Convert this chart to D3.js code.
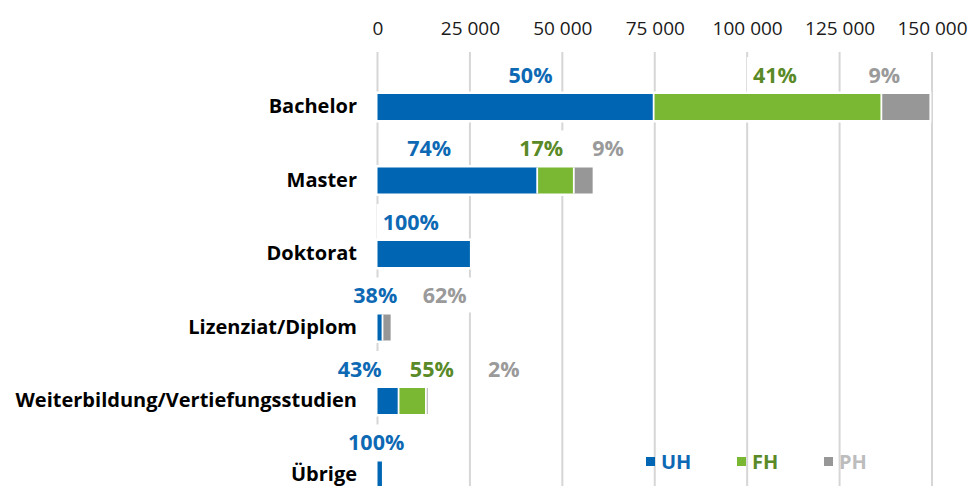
<!DOCTYPE html>
<html><head><meta charset="utf-8">
<script src="https://cdn.jsdelivr.net/npm/d3@7"></script>
<style>
html,body{margin:0;padding:0;background:#fff;}
svg{display:block;font-family:"Open Sans",sans-serif;}
</style></head>
<body>
<svg id="c" width="972" height="486"></svg>
<script>
// ---- data ----
const categories = ["Bachelor","Master","Doktorat","Lizenziat/Diplom","Weiterbildung/Vertiefungsstudien","Übrige"];
const seriesNames = ["UH","FH","PH"];
const UH = [74700, 43200, 25000, 1350, 5700, 1200];
const FH = [61600, 9900, 0, 0, 7400, 0];
const PH = [13000, 5100, 0, 2200, 450, 0];
const tickValues = [0, 25000, 50000, 75000, 100000, 125000, 150000];

// percentage labels as printed in the chart
const pctUH = ["50%", "74%", "100%", "38%", "43%", "100%"];
const pctFH = ["41%", "17%", null, null, "55%", null];
const pctPH = ["9%", "9%", null, "62%", "2%", null];

// label anchor positions (in value units) for the percentage labels
const labelAtUH = [41400, 14000, 9000, -600, -4800, -350];
const labelAtFH = [107500, 44300, null, null, 14700, null];
const labelAtPH = [137100, 62400, null, 18200, 34200, null];

// ---- layout / style ----
const colors = {UH:"#0066b3", FH:"#7ab733", PH:"#979797"};
const textColors = {UH:"#0e69b4", FH:"#5a8a28", PH:"#9a9a9a"};
const legendText = {UH:"#0e69b4", FH:"#5a8a28", PH:"#bdbdbd"};

const svg = d3.select("#c");
const x = d3.scaleLinear().domain([0,150000]).range([377.5, 932]);
const y = d3.scalePoint().domain(categories).range([107, 474.5]);
const barH = 26;

const series = {UH, FH, PH};
const pcts = {UH:pctUH, FH:pctFH, PH:pctPH};
const labelAt = {UH:labelAtUH, FH:labelAtFH, PH:labelAtPH};

const loc = d3.formatLocale({decimal:",", thousands:" ", grouping:[3], currency:["",""]});
const fmt = loc.format(",d");

// gridlines
svg.append("g").selectAll("line").data(tickValues).join("line")
  .attr("x1", d=>x(d)).attr("x2", d=>x(d))
  .attr("y1", 52).attr("y2", 486)
  .attr("stroke", "#d6d6d6").attr("stroke-width", 2);

// top axis labels
const axis = d3.axisTop(x).tickValues(tickValues).tickFormat(fmt).tickSize(0).tickPadding(0);
const ag = svg.append("g").attr("transform","translate(0,35)").call(axis);
ag.select(".domain").remove();
ag.selectAll("text").attr("font-family","'Open Sans',sans-serif").attr("font-size",19)
  .attr("fill","#1a1a1a").attr("dy","0");

// rows
const rows = categories.map((c,i)=>{
  let acc = 0;
  const segs = seriesNames.map(s=>{
    const v = series[s][i];
    const seg = {s, v, x0:acc, x1:acc+v};
    acc += v;
    return seg;
  });
  return {c, i, total:acc, segs};
});

const gLab = svg.append("g");
const gBars = svg.append("g");

rows.forEach(r=>{
  const cy = y(r.c);
  // white halo behind whole bar row
  gBars.append("rect")
    .attr("x", x(0)-2).attr("y", cy-barH/2-2.5)
    .attr("width", x(r.total)-x(0)+4).attr("height", barH+5)
    .attr("fill","#fff");
  const vis = r.segs.filter(s=>s.v>0);
  vis.forEach(s=>{
    gBars.append("rect")
      .attr("x", x(s.x0)).attr("y", cy-barH/2)
      .attr("width", x(s.x1)-x(s.x0)).attr("height", barH)
      .attr("fill", colors[s.s]);
  });
  // white separators between segments
  vis.slice(1).forEach(s=>{
    gBars.append("line")
      .attr("x1", x(s.x0)).attr("x2", x(s.x0))
      .attr("y1", cy-barH/2).attr("y2", cy+barH/2)
      .attr("stroke","#fff").attr("stroke-width",1.8);
  });
  // percentage labels
  vis.forEach(s=>{
    const pct = pcts[s.s][r.i];
    if (!pct) return;
    const lx = x(labelAt[s.s][r.i]);
    const ly = cy-32;
    const box = gLab.append("rect").attr("fill","#fff");
    const t = gLab.append("text")
      .attr("x", lx).attr("y", ly).attr("dy","0.36em")
      .attr("text-anchor","middle")
      .attr("font-size",21.5).attr("font-weight","bold")
      .attr("fill", textColors[s.s]).text(pct);
    const bb = t.node().getBBox();
    box.attr("x", bb.x-6).attr("y", ly-18).attr("width", bb.width+12).attr("height", 35);
  });
  // category label
  svg.append("text")
    .attr("x", 357).attr("y", cy).attr("dy","0.3em")
    .attr("text-anchor","end")
    .attr("font-size",20).attr("font-weight","bold").attr("fill","#000")
    .text(r.c);
});

// legend
const legX = [646, 737, 824];
const lg = svg.append("g");
seriesNames.forEach((s,i)=>{
  lg.append("rect").attr("x", legX[i]).attr("y", 457).attr("width", 9).attr("height", 9).attr("fill", colors[s]);
  lg.append("text").attr("x", legX[i]+15).attr("y", 461.5).attr("dy","0.36em")
    .attr("font-size",20).attr("font-weight","bold").attr("fill", legendText[s]).text(s);
});
</script>
</body></html>
